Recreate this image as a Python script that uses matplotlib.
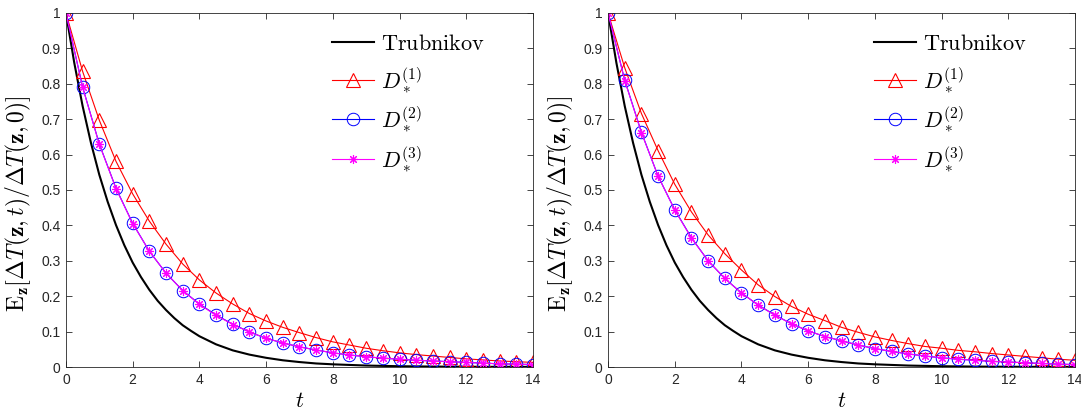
import numpy as np
import matplotlib
matplotlib.use("Agg")
import matplotlib.pyplot as plt

plt.rcParams['mathtext.fontset'] = 'cm'
plt.rcParams['font.family'] = ['Liberation Sans', 'DejaVu Sans']

# time grids
t_mark = np.arange(0, 14.01, 0.5)
t_trub = [0, 0.25, 0.5, 0.75, 1.0, 1.25, 1.5, 1.75, 2.0, 2.25, 2.5, 2.75, 3.0,
          3.25, 3.5, 3.75, 4.0, 4.5, 5.0, 5.5, 6.0, 6.5, 7.0, 7.5, 8.0, 9.0,
          10.0, 11.0, 12.0, 13.0, 14.0]

# Trubnikov reference (same in both panels)
trub = [1.0, 0.859, 0.737, 0.633, 0.543, 0.467, 0.401, 0.344, 0.295, 0.254,
        0.218, 0.187, 0.161, 0.138, 0.118, 0.102, 0.087, 0.064, 0.047, 0.035,
        0.026, 0.019, 0.014, 0.010, 0.0076, 0.0041, 0.0022, 0.0012, 0.0007,
        0.0004, 0.0002]

# left panel
d1_left = [1.0, 0.835, 0.697, 0.581, 0.489, 0.412, 0.347, 0.291, 0.246, 0.209,
           0.178, 0.151, 0.130, 0.112, 0.097, 0.083, 0.071, 0.062, 0.053, 0.046,
           0.040, 0.035, 0.031, 0.027, 0.023, 0.020, 0.017, 0.015, 0.013]
d2_left = [1.0, 0.791, 0.630, 0.505, 0.406, 0.327, 0.265, 0.216, 0.178, 0.147,
           0.121, 0.099, 0.081, 0.068, 0.057, 0.048, 0.040, 0.034, 0.029, 0.025,
           0.022, 0.019, 0.017, 0.015, 0.013, 0.011, 0.009, 0.008, 0.007]
d3_left = [1.0, 0.790, 0.629, 0.504, 0.405, 0.327, 0.265, 0.216, 0.177, 0.146,
           0.120, 0.099, 0.081, 0.068, 0.057, 0.048, 0.040, 0.034, 0.029, 0.025,
           0.022, 0.019, 0.017, 0.015, 0.013, 0.011, 0.009, 0.008, 0.007]

# right panel
d1_right = [1.0, 0.845, 0.716, 0.611, 0.516, 0.438, 0.373, 0.320, 0.274, 0.232,
            0.199, 0.171, 0.149, 0.131, 0.112, 0.098, 0.085, 0.075, 0.066, 0.058,
            0.053, 0.047, 0.043, 0.038, 0.034, 0.030, 0.026, 0.022, 0.019]
d2_right = [1.0, 0.810, 0.663, 0.539, 0.444, 0.365, 0.300, 0.250, 0.209, 0.175,
            0.147, 0.122, 0.102, 0.086, 0.074, 0.062, 0.052, 0.044, 0.037, 0.031,
            0.026, 0.022, 0.019, 0.016, 0.014, 0.012, 0.010, 0.008, 0.007]
d3_right = [1.0, 0.809, 0.662, 0.539, 0.443, 0.364, 0.300, 0.250, 0.209, 0.175,
            0.146, 0.122, 0.102, 0.086, 0.074, 0.062, 0.052, 0.044, 0.037, 0.031,
            0.026, 0.022, 0.019, 0.016, 0.014, 0.012, 0.010, 0.008, 0.007]

xticks = [0, 2, 4, 6, 8, 10, 12, 14]
yticks = [0, 0.1, 0.2, 0.3, 0.4, 0.5, 0.6, 0.7, 0.8, 0.9, 1.0]
ytick_labels = ['0', '0.1', '0.2', '0.3', '0.4', '0.5', '0.6', '0.7', '0.8', '0.9', '1']

ylabel = r'$\mathrm{E}_{\mathbf{z}}\left[\Delta T(\mathbf{z},t)/\Delta T(\mathbf{z},0)\right]$'
axis_col = '#262626'

fig = plt.figure(figsize=(10.81, 4.18), dpi=100)
ax_left = fig.add_axes([0.061, 0.122, 0.432, 0.847])
ax_right = fig.add_axes([0.5625, 0.122, 0.432, 0.847])


def draw_panel(ax, d1, d2, d3):
    ax.plot(t_trub, trub, color='k', lw=1.5, label=r'$\mathrm{Trubnikov}$')
    ax.plot(t_mark, d1, color='#FF0000', lw=0.8, marker='^', ms=10.5, mfc='none',
            mew=0.8, label=r'$D_*^{(1)}$')
    ax.plot(t_mark, d2, color='#0000FF', lw=0.8, marker='o', ms=9, mfc='none',
            mew=0.7, label=r'$D_*^{(2)}$')
    ax.plot(t_mark, d3, color='#FF00FF', lw=0.8, marker=(8, 2, 0), ms=6.5,
            mew=0.8, label=r'$D_*^{(3)}$')

    ax.set_xlim(0, 14)
    ax.set_ylim(0, 1)
    ax.set_xticks(xticks)
    ax.set_yticks(yticks)
    ax.set_yticklabels(ytick_labels)
    ax.tick_params(direction='in', length=4, width=0.6, top=True, right=True,
                   labelsize=10, colors=axis_col, pad=4)
    for s in ax.spines.values():
        s.set_color(axis_col)
        s.set_linewidth(0.6)
    ax.set_xlabel(r'$t$', fontsize=16, labelpad=3)
    ax.set_ylabel(ylabel, fontsize=17)
    ax.yaxis.set_label_coords(-0.071, 0.46)

    ax.legend(loc='upper left', frameon=False, fontsize=16,
              handlelength=1.9, handletextpad=0.3, labelspacing=0.45,
              borderaxespad=0.0, bbox_to_anchor=(0.55, 0.966))


draw_panel(ax_left, d1_left, d2_left, d3_left)
draw_panel(ax_right, d1_right, d2_right, d3_right)

fig.savefig('out.png', dpi=100)
